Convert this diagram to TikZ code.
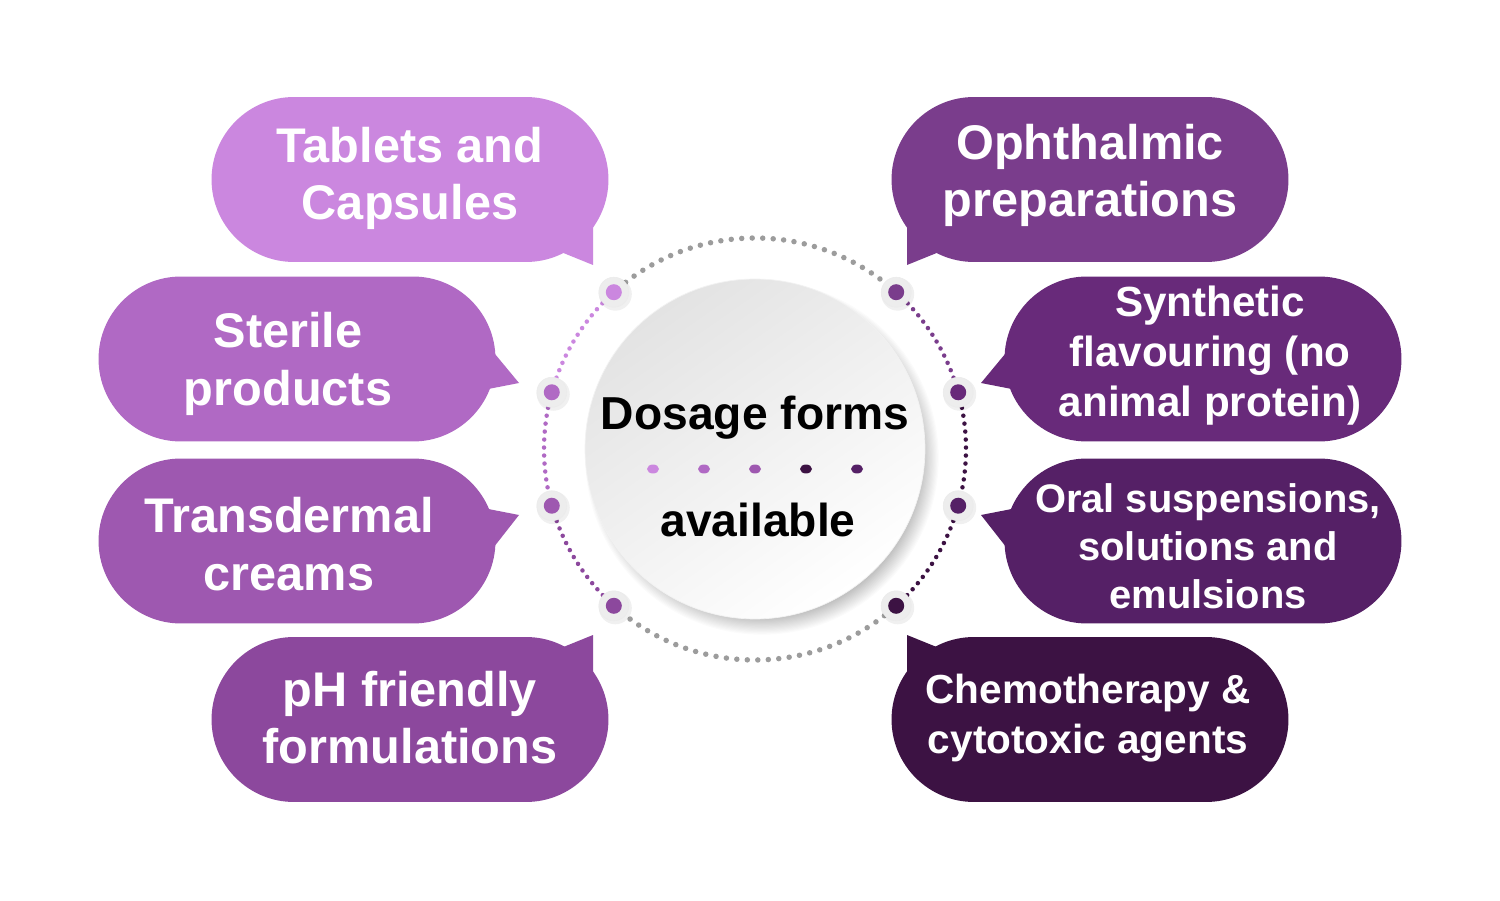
\documentclass[tikz,border=0pt]{standalone}
\usepackage{fontspec}
\setmainfont{Liberation Sans}
\usetikzlibrary{shapes.misc,shapes.geometric}
\definecolor{cA}{HTML}{CB87DF}
\definecolor{cB}{HTML}{B069C4}
\definecolor{cC}{HTML}{9E58B0}
\definecolor{cD}{HTML}{8C489D}
\definecolor{cE}{HTML}{7A3D8C}
\definecolor{cF}{HTML}{682A7A}
\definecolor{cG}{HTML}{552066}
\definecolor{cH}{HTML}{3C1243}
\definecolor{ringgrey}{HTML}{9C9C9C}
\definecolor{halogrey}{HTML}{EDEDED}
\begin{document}
\begin{tikzpicture}[x=0.02cm,y=0.02cm,
  bubble/.style={rounded rectangle, rounded rectangle arc length=180, minimum width=7.94cm, minimum height=3.3cm, inner sep=0pt},
  btext/.style={text=white, align=center, inner sep=0pt},
  bigtxt/.style={font=\bfseries\fontsize{27.7}{32.6}\selectfont},
  midtxt/.style={font=\bfseries\fontsize{24}{28.5}\selectfont},
  chemtxt/.style={font=\bfseries\fontsize{23.1}{28.5}\selectfont},
  smalltxt/.style={font=\bfseries\fontsize{22.7}{27.3}\selectfont},
  hubtxt/.style={font=\bfseries\fontsize{26.3}{30}\selectfont, text=black, inner sep=0pt},
  dotring/.style={line width=0.11cm, line cap=round, dash pattern=on 0pt off 0.21cm, color=ringgrey},
  dotringp/.style={line width=0.09cm, line cap=round, dash pattern=on 0pt off 0.16cm},
  halo/.style={circle, minimum size=0.6cm, inner sep=0pt, fill=halogrey, draw=black!8, line width=0.3pt},
  hdot/.style={circle, minimum size=0.32cm, inner sep=0pt},
  cdot/.style={ellipse, minimum width=0.24cm, minimum height=0.18cm, inner sep=0pt},
]
\useasboundingbox (0,0) rectangle (1500,900);
\fill[white] (0,0) rectangle (1500,900);

% ---------- bubble tails ----------
\fill[cA] (593,635) -- (593,695) -- (556,650) -- cycle;
\fill[cB] (519,517) -- (490,552) -- (478,509) -- cycle;
\fill[cC] (519,385) -- (478,393) -- (490,348) -- cycle;
\fill[cD] (593,265) -- (593,205) -- (556,250) -- cycle;
\fill[cE] (907,635) -- (907,695) -- (944,650) -- cycle;
\fill[cF] (981,517) -- (1010,552) -- (1022,509) -- cycle;
\fill[cG] (981,385) -- (1022,393) -- (1010,348) -- cycle;
\fill[cH] (907,265) -- (907,205) -- (944,250) -- cycle;

% ---------- bubbles ----------
\node[bubble, fill=cA] (b1) at (410,720.5) {};
\node[bubble, fill=cB] (b2) at (297,541) {};
\node[bubble, fill=cC] (b3) at (297,359) {};
\node[bubble, fill=cD] (b4) at (410,180.5) {};
\node[bubble, fill=cE] (b5) at (1090,720.5) {};
\node[bubble, fill=cF] (b6) at (1203,541) {};
\node[bubble, fill=cG] (b7) at (1203,359) {};
\node[bubble, fill=cH] (b8) at (1090,180.5) {};

\node[btext, bigtxt] (l1) at (410,721.5) {Tablets and\\Capsules};
\node[btext, bigtxt] (l2) at (288,536) {Sterile\\products};
\node[btext, bigtxt] (l3) at (289,356) {Transdermal\\creams};
\node[btext, bigtxt] (l4) at (410,182.5) {pH friendly\\formulations};
\node[btext, bigtxt] (l5) at (1090,724.5) {Ophthalmic\\preparations};
\node[btext, midtxt] (l6) at (1210,544) {Synthetic\\flavouring (no\\animal protein)};
\node[btext, smalltxt] (l7) at (1208,354) {Oral suspensions,\\solutions and\\emulsions};
\node[btext, chemtxt] (l8) at (1088,181.5) {Chemotherapy \&\\cytotoxic agents};

% ---------- dotted ring ----------
\begin{scope}[shift={(755,451)}]
  \draw[dotring] (48:211) arc[start angle=48, end angle=132, radius=211];
  \draw[dotring] (228:211) arc[start angle=228, end angle=312, radius=211];
  \draw[dotringp, color=cA] (132:211) arc[start angle=132, end angle=164.4, radius=211];
  \draw[dotringp, color=cB] (164.4:211) arc[start angle=164.4, end angle=195.6, radius=211];
  \draw[dotringp, color=cD] (195.6:211) arc[start angle=195.6, end angle=228, radius=211];
  \draw[dotringp, color=cE] (48:211) arc[start angle=48, end angle=15.6, radius=211];
  \draw[dotringp, color=cH] (15.6:211) arc[start angle=15.6, end angle=-15.6, radius=211];
  \draw[dotringp, color=cH] (-15.6:211) arc[start angle=-15.6, end angle=-48, radius=211];

  % halos
  \foreach \a/\c/\n in {132/cA/h1, 164.4/cB/h2, 195.6/cC/h3, 228/cD/h4, 48/cE/h5, 15.6/cF/h6, -15.6/cG/h7, -48/cH/h8}{
    \fill[black, opacity=0.06] (\a:211) ++(1.5,-2) circle (16.5);
    \node[halo] (\n) at (\a:211) {};
    \node[hdot, fill=\c] (\n d) at (\n) {};
  }

  % hub shadow (soft)
  \foreach \i in {1,...,18}{
    \fill[black, opacity=0.014] (7,-9) circle ({156+\i*1.15});
  }
\end{scope}

% ---------- hub ----------
\node[circle, minimum size=6.8cm, inner sep=0pt, top color=black!11, bottom color=white, shading angle=35, draw=black!5, line width=0.4pt] (hub) at (755,451) {};
\node[hubtxt] (t1) at (755,482) {Dosage forms};
\node[hubtxt] (t2) at (758,380) {available};
\node[cdot, fill=cA] (d1) at (653,431) {};
\node[cdot, fill=cB] (d2) at (704,431) {};
\node[cdot, fill=cC] (d3) at (755,431) {};
\node[cdot, fill=cH] (d4) at (806,431) {};
\node[cdot, fill=cG] (d5) at (857,431) {};
\end{tikzpicture}
\end{document}
